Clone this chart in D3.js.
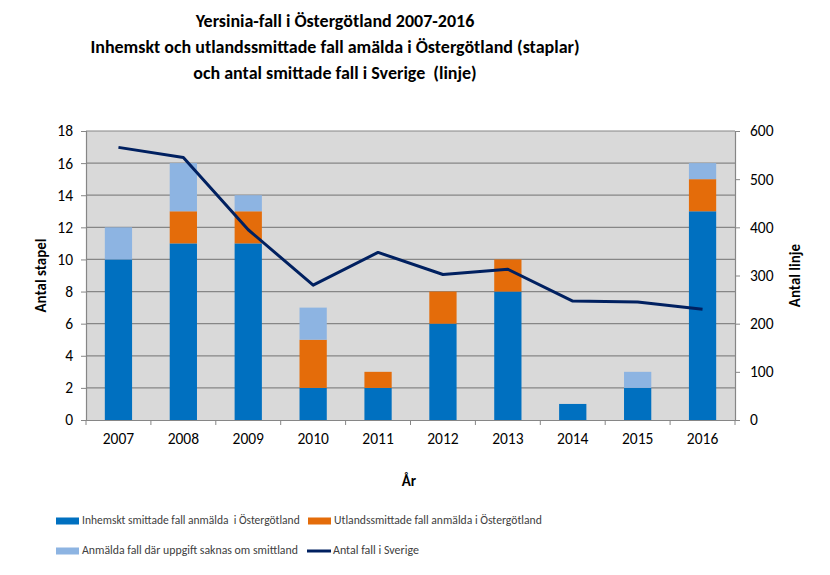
<!DOCTYPE html>
<html>
<head>
<meta charset="utf-8">
<script src="https://cdn.jsdelivr.net/npm/d3@7"></script>
<style>
  body { margin: 0; background: #fff; }
  text { font-family: Carlito, Calibri, Lato, "Open Sans", sans-serif; white-space: pre; }
</style>
</head>
<body>
<svg id="chart" width="830" height="575"></svg>
<script>
// data
const years = ["2007","2008","2009","2010","2011","2012","2013","2014","2015","2016"];
const inhemskt = [10, 11, 11, 2, 2, 6, 8, 1, 2, 13];
const utlands = [0, 2, 2, 3, 1, 2, 2, 0, 0, 2];
const saknas = [2, 3, 1, 2, 0, 0, 0, 0, 1, 1];
const sverige = [566, 545, 395, 280, 348, 302, 313, 247, 245, 230];
const leftTicks = [0, 2, 4, 6, 8, 10, 12, 14, 16, 18];
const rightTicks = [0, 100, 200, 300, 400, 500, 600];
const seriesNames = [
  "Inhemskt smittade fall anmälda  i Östergötland",
  "Utlandssmittade fall anmälda i Östergötland",
  "Anmälda fall där uppgift saknas om smittland",
  "Antal fall i Sverige"
];
const titleLines = [
  "Yersinia-fall i Östergötland 2007-2016",
  "Inhemskt och utlandssmittade fall amälda i Östergötland (staplar)",
  "och antal smittade fall i Sverige  (linje)"
];

//colours
const colours = ["#0070C0", "#E46C0A", "#8DB4E2"];
const lineCol = "#002060";
const gridCol = "#868686";
const textCol = "#000";

//dimensions
const margin = { left: 86, right: 95, top: 131, bottom: 155 };
const width = 830, height = 575;
const plotW = width - margin.left - margin.right;
const plotH = height - margin.top - margin.bottom;

const svg = d3.select("#chart");

const x = d3.scaleBand().domain(years).range([margin.left, margin.left + plotW]).paddingInner(0.58).paddingOuter(0.29);
const band = d3.scaleBand().domain(years).range([margin.left, margin.left + plotW]);
const yL = d3.scaleLinear().domain([0, 18]).range([margin.top + plotH, margin.top]);
const yR = d3.scaleLinear().domain([0, 600]).range([margin.top + plotH, margin.top]);

// plot background
svg.append("rect")
  .attr("x", margin.left).attr("y", margin.top)
  .attr("width", plotW).attr("height", plotH)
  .attr("fill", "#D9D9D9");

// gridlines
svg.append("g").selectAll("line").data(leftTicks.slice(1))
  .join("line")
  .attr("x1", margin.left).attr("x2", margin.left + plotW)
  .attr("y1", d => yL(d)).attr("y2", d => yL(d))
  .attr("stroke", gridCol).attr("stroke-width", 1.2);

// stacked bars
const table = years.map((y, i) => ({ year: y, a: inhemskt[i], b: utlands[i], c: saknas[i] }));
const stacked = d3.stack().keys(["a", "b", "c"])(table);
svg.append("g").selectAll("g").data(stacked)
  .join("g")
  .attr("fill", (d, i) => colours[i])
  .selectAll("rect").data(d => d.filter(p => p[1] > p[0]))
  .join("rect")
  .attr("x", d => x(d.data.year))
  .attr("width", x.bandwidth())
  .attr("y", d => yL(d[1]))
  .attr("height", d => yL(d[0]) - yL(d[1]));

// line
const line = d3.line()
  .x((d, i) => band(years[i]) + band.bandwidth() / 2)
  .y(d => yR(d));
svg.append("path")
  .datum(sverige)
  .attr("d", line)
  .attr("fill", "none")
  .attr("stroke", lineCol)
  .attr("stroke-width", 3)
  .attr("stroke-linejoin", "round");

// left axis
const leftAxis = svg.append("g")
  .attr("transform", `translate(${margin.left},0)`)
  .call(d3.axisLeft(yL).tickValues(leftTicks).tickSize(5).tickPadding(8));
// right axis
const rightAxis = svg.append("g")
  .attr("transform", `translate(${margin.left + plotW},0)`)
  .call(d3.axisRight(yR).tickValues(rightTicks).tickSize(5).tickPadding(10));
// bottom axis
const bottomAxis = svg.append("g")
  .attr("transform", `translate(0,${margin.top + plotH})`)
  .call(d3.axisBottom(band).tickSize(0).tickPadding(13));
bottomAxis.selectAll(".tick")
  .append("line")
  .attr("x1", -band.bandwidth() / 2).attr("x2", -band.bandwidth() / 2)
  .attr("y1", 0).attr("y2", 5)
  .attr("stroke", gridCol);
bottomAxis.append("line")
  .attr("x1", margin.left + plotW).attr("x2", margin.left + plotW)
  .attr("y1", 0).attr("y2", 5).attr("stroke", gridCol);

[leftAxis, rightAxis, bottomAxis].forEach(ax => {
  ax.select(".domain").attr("stroke", gridCol).attr("stroke-width", 1.2);
  ax.selectAll(".tick line").attr("stroke", gridCol);
  ax.selectAll("text").attr("fill", textCol).style("font-size", "15.5px");
});

// axis titles
svg.append("text")
  .attr("transform", `translate(46,${margin.top + plotH / 2}) rotate(-90)`)
  .attr("text-anchor", "middle")
  .style("font-size", "15px").style("font-weight", "bold")
  .text("Antal stapel");
svg.append("text")
  .attr("transform", `translate(800,${margin.top + plotH / 2}) rotate(-90)`)
  .attr("text-anchor", "middle")
  .style("font-size", "15px").style("font-weight", "bold")
  .text("Antal linje");
svg.append("text")
  .attr("x", 409).attr("y", 486)
  .attr("text-anchor", "middle")
  .style("font-size", "15px").style("font-weight", "bold")
  .text("År");

// title
svg.append("g").selectAll("text").data(titleLines)
  .join("text")
  .attr("x", 335)
  .attr("y", (d, i) => 27 + i * 26)
  .attr("text-anchor", "middle")
  .style("font-size", "18px").style("font-weight", "bold")
  .text(d => d);

// legend
const legendPos = [[56, 521], [308, 521], [56, 551], [307, 551]];
const legendLen = [218, 208, 216, 86];
const legendG = svg.append("g").selectAll("g").data(seriesNames)
  .join("g")
  .attr("transform", (d, i) => `translate(${legendPos[i][0]},${legendPos[i][1]})`);
legendG.each(function(d, i){
  const g = d3.select(this);
  if (i < 3) {
    g.append("rect").attr("x", 0).attr("y", -3.5).attr("width", 23).attr("height", 7).attr("fill", colours[i]);
  } else {
    g.append("line").attr("x1", 0).attr("x2", 24).attr("y1", 0).attr("y2", 0)
      .attr("stroke", lineCol).attr("stroke-width", 3);
  }
  const t = g.append("text")
    .attr("x", 26).attr("y", 0)
    .attr("dominant-baseline", "middle")
    .attr("fill", "#404040")
    .style("font-size", "15px")
    .text(d);
  // shrink font until the text fits the width it has in the picture
  const natural = t.node().getComputedTextLength();
  if (natural > legendLen[i]) t.style("font-size", (15 * legendLen[i] / natural) + "px");
});
</script>
</body>
</html>
